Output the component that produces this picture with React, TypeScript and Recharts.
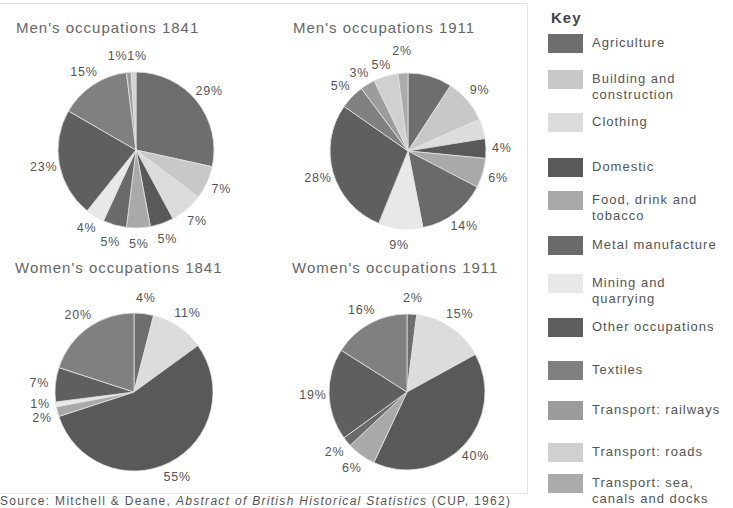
import React from "react";
import { PieChart, Pie, Cell } from "recharts";

const categories = [
  "Agriculture",
  "Building and construction",
  "Clothing",
  "Domestic",
  "Food, drink and tobacco",
  "Metal manufacture",
  "Mining and quarrying",
  "Other occupations",
  "Textiles",
  "Transport: railways",
  "Transport: roads",
  "Transport: sea, canals and docks",
];

const keyLines = [
  ["Agriculture"],
  ["Building and", "construction"],
  ["Clothing"],
  ["Domestic"],
  ["Food, drink and", "tobacco"],
  ["Metal manufacture"],
  ["Mining and", "quarrying"],
  ["Other occupations"],
  ["Textiles"],
  ["Transport: railways"],
  ["Transport: roads"],
  ["Transport: sea,", "canals and docks"],
];

const colors = [
  "#6e6e6e",
  "#c8c8c8",
  "#dcdcdc",
  "#595959",
  "#a9a9a9",
  "#6a6a6a",
  "#e8e8e8",
  "#5f5f5f",
  "#808080",
  "#9c9c9c",
  "#d0d0d0",
  "#ababab",
];

// percentages per category, in key order
const men1841 = [29, 7, 7, 5, 5, 5, 4, 23, 15, 1, 1, 0];
const men1911 = [9, 9, 4, 4, 6, 14, 9, 28, 5, 3, 5, 2];
const women1841 = [4, 0, 11, 55, 2, 0, 1, 7, 20, 0, 0, 0];
const women1911 = [2, 0, 15, 40, 6, 2, 0, 19, 16, 0, 0, 0];

// printed labels (some slices carry none in the original)
const men1841Labels = ["29%", "7%", "7%", "5%", "5%", "5%", "4%", "23%", "15%", "1%1%", "", ""];
const men1911Labels = ["", "9%", "", "4%", "6%", "14%", "9%", "28%", "5%", "3%", "5%", "2%"];
const women1841Labels = ["4%", "", "11%", "55%", "2%", "", "1%", "7%", "20%", "", "", ""];
const women1911Labels = ["2%", "", "15%", "40%", "6%", "2%", "", "19%", "16%", "", "", ""];

const toData = (values: number[], labels: string[]) =>
  values.map((v, i) => ({ name: categories[i], value: v, label: labels[i], color: colors[i] }));

const RAD = Math.PI / 180;
const LABEL_GAP = 16;
const font = "'Liberation Sans', Arial, sans-serif";

// vertical nudges so that labels of neighbouring thin slices do not collide
function labelNudges(values: number[], labels: string[], r: number) {
  const total = values.reduce((a, b) => a + b, 0);
  const R = r + LABEL_GAP;
  let acc = 0;
  const pos = values.map((v) => {
    const mid = ((acc + v / 2) / total) * 360;
    acc += v;
    return { x: R * Math.sin(mid * RAD), y: -R * Math.cos(mid * RAD) };
  });
  const dy = values.map(() => 0);
  for (let i = 0; i < values.length; i++) {
    for (let j = i + 1; j < values.length; j++) {
      if (!values[i] || !values[j] || !labels[i] || !labels[j]) continue;
      const ddx = Math.abs(pos[i].x - pos[j].x);
      const yi = pos[i].y + dy[i];
      const yj = pos[j].y + dy[j];
      if (ddx < 26 && Math.abs(yi - yj) < 14) {
        const need = (14 - Math.abs(yi - yj)) / 2;
        if (yi < yj) {
          dy[i] -= need;
          dy[j] += need;
        } else {
          dy[i] += need;
          dy[j] -= need;
        }
      }
    }
  }
  return dy;
}

const makeLabel = (nudges: number[]) => (props: any) => {
  const { cx, cy, midAngle, outerRadius, payload, value, index } = props;
  if (!value || !payload.label) return null;
  const r = outerRadius + LABEL_GAP;
  const x = cx + r * Math.cos(-midAngle * RAD);
  const y = cy + r * Math.sin(-midAngle * RAD) + (nudges[index] || 0);
  return (
    <text
      x={x}
      y={y}
      fill="#555"
      fontSize={12.5}
      letterSpacing={0.8}
      textAnchor="middle"
      dominantBaseline="central"
      fontFamily={font}
    >
      {payload.label}
    </text>
  );
};

const pies = [
  { id: "m41", values: men1841, labels: men1841Labels, cx: 131, cy: 145, r: 78 },
  { id: "m11", values: men1911, labels: men1911Labels, cx: 403, cy: 146, r: 78 },
  { id: "w41", values: women1841, labels: women1841Labels, cx: 129, cy: 387, r: 79 },
  { id: "w11", values: women1911, labels: women1911Labels, cx: 402, cy: 387, r: 78 },
];

const titles = [
  { text: "Men's occupations 1841", left: 16, top: 19 },
  { text: "Men's occupations 1911", left: 293, top: 19 },
  { text: "Women's occupations 1841", left: 15, top: 259 },
  { text: "Women's occupations 1911", left: 292, top: 259 },
];

const keyTops = [34, 70, 113, 158, 191, 236, 274, 318, 361, 401, 443, 474];

export default function App() {
  return (
    <div style={{ position: "absolute", left: 0, top: 0, width: 733, height: 508, background: "#fff", fontFamily: font, overflow: "hidden" }}>
      <div style={{ position: "absolute", left: -1, top: 3, width: 527, height: 489, border: "1px solid #e4e4e4" }} />
      <div style={{ position: "absolute", left: 0, top: 0 }}>
        <PieChart width={530} height={500}>
          {pies.map((p) => {
            const data = toData(p.values, p.labels);
            const nudges = labelNudges(p.values, p.labels, p.r);
            return (
              <Pie
                key={p.id}
                data={data}
                dataKey="value"
                nameKey="name"
                cx={p.cx}
                cy={p.cy}
                outerRadius={p.r}
                startAngle={90}
                endAngle={-270}
                stroke="#e2e2e2"
                strokeWidth={0.8}
                label={makeLabel(nudges)}
                labelLine={false}
                isAnimationActive={false}
              >
                {data.map((d) => (
                  <Cell key={d.name} fill={d.color} />
                ))}
              </Pie>
            );
          })}
        </PieChart>
      </div>
      {titles.map((t) => (
        <div key={t.text} style={{ position: "absolute", left: t.left, top: t.top, fontSize: 15, letterSpacing: 1, color: "#666", whiteSpace: "nowrap" }}>
          {t.text}
        </div>
      ))}
      <div style={{ position: "absolute", left: 551, top: 9, fontSize: 15, fontWeight: "bold", letterSpacing: 1, color: "#444" }}>Key</div>
      {categories.map((c, i) => (
        <div key={c} style={{ position: "absolute", left: 548, top: keyTops[i] }}>
          <div style={{ position: "absolute", left: 0, top: 0, width: 35, height: 19, background: colors[i] }} />
          <div style={{ position: "absolute", left: 44, top: 1, fontSize: 13, letterSpacing: 1, lineHeight: "16px", color: "#555", whiteSpace: "nowrap" }}>
            {keyLines[i].map((l) => (
              <div key={l}>{l}</div>
            ))}
          </div>
        </div>
      ))}
      <div style={{ position: "absolute", left: 0, top: 494, fontSize: 12, lineHeight: "14px", letterSpacing: 1.3, color: "#555", whiteSpace: "nowrap" }}>
        Source: Mitchell &amp; Deane, <i>Abstract of British Historical Statistics</i> (CUP, 1962)
      </div>
    </div>
  );
}
